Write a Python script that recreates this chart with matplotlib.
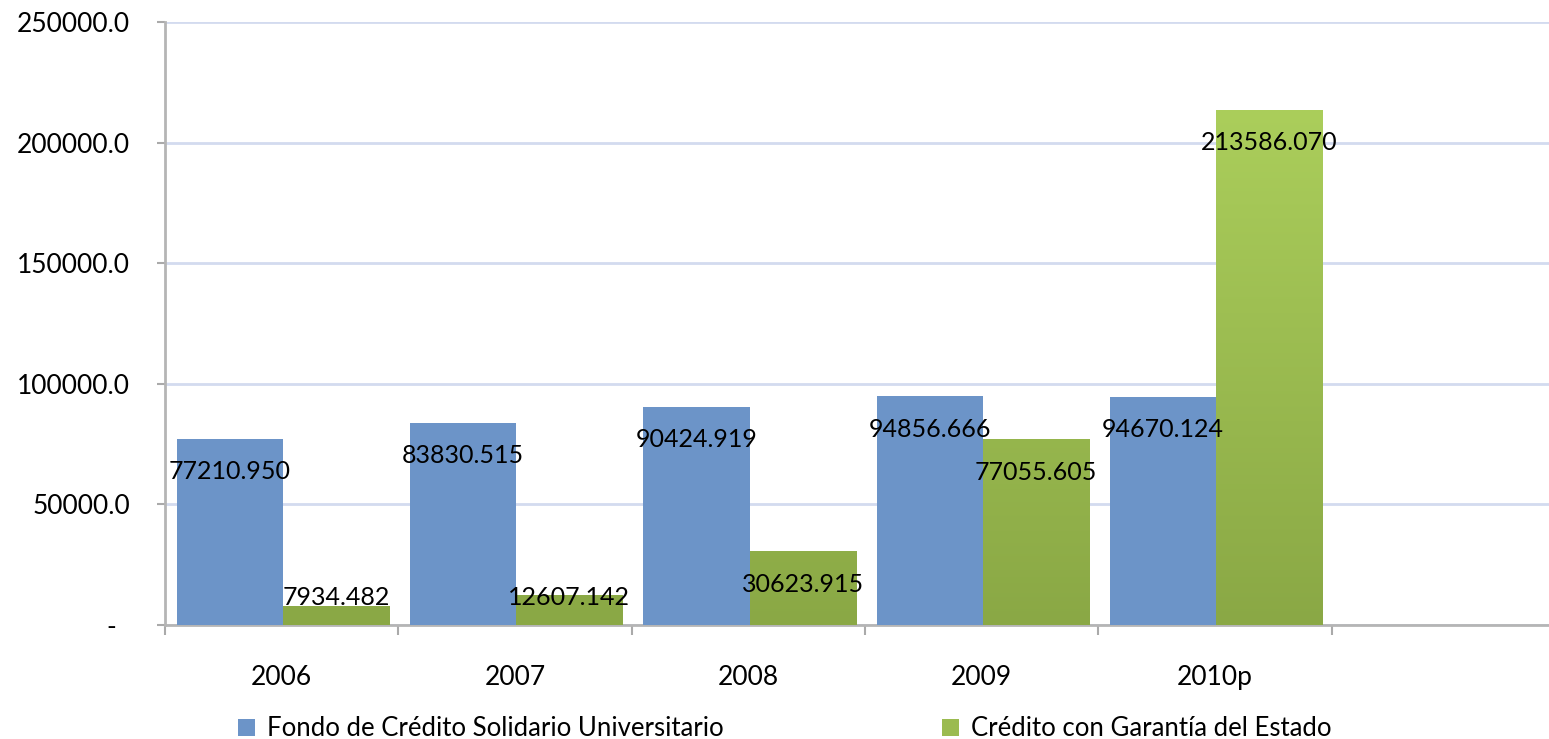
import matplotlib
matplotlib.use("Agg")
import matplotlib.pyplot as plt
import numpy as np
from matplotlib.colors import LinearSegmentedColormap

years = ["2006", "2007", "2008", "2009", "2010p"]
fondo = [77210.950, 83830.515, 90424.919, 94856.666, 94670.124]
cae = [7934.482, 12607.142, 30623.915, 77055.605, 213586.070]
yticks = [0, 50000, 100000, 150000, 200000, 250000]
ytick_labels = ["-  ", "50000.0", "100000.0", "150000.0", "200000.0", "250000.0"]

plt.rcParams['font.family'] = ['Lato', 'DejaVu Sans']

fig = plt.figure(figsize=(15.49, 7.39), dpi=100)
ax = fig.add_axes([165 / 1549, 114 / 739, 1400 / 1549, 603 / 739])

x = np.arange(len(years))
w = 0.455
blue = "#6C94C8"
b1 = ax.bar(x - 0.222, fondo, w, color=blue, zorder=3)
b2 = ax.bar(x + 0.233, cae, w, color="#9BBB50", zorder=3)

# vertical gradient on the green bars
cmap = LinearSegmentedColormap.from_list("g", ["#8AA845", "#ABCE5B"])
grad = np.linspace(0, 1, 256).reshape(-1, 1)
for bar in b2:
    bx, bw = bar.get_x(), bar.get_width()
    im = ax.imshow(grad, cmap=cmap, origin="lower", aspect="auto",
                   extent=[bx, bx + bw, 0, max(cae)], zorder=3.5)
    im.set_clip_path(bar)

off = 13700
for bars in (b1, b2):
    for bar in bars:
        v = bar.get_height()
        ax.text(bar.get_x() + bar.get_width() / 2, max(v - off, 11600),
                f"{v:.3f}", ha="center", va="center", fontsize=18,
                color="black", zorder=5)

ax.set_xlim(-0.5, 5.5)
ax.set_ylim(0, 250000)
ax.set_yticks(yticks)
ax.set_yticklabels(ytick_labels, fontsize=19)
ax.set_xticks(x)
ax.set_xticklabels(years, fontsize=19)
ax.set_xticks(np.arange(-0.5, 6, 1), minor=True)
ax.tick_params(axis="x", which="major", length=0, pad=29)
ax.tick_params(axis="x", which="minor", length=7, width=1.5, color="#AAAAAA")
ax.tick_params(axis="y", length=6, width=1.5, color="#AAAAAA", pad=19)

ax.grid(axis="y", color="#D3DBEF", linewidth=2, zorder=0)
for s in ["top", "right"]:
    ax.spines[s].set_visible(False)
for s in ["left", "bottom"]:
    ax.spines[s].set_color("#B5B5B5")
    ax.spines[s].set_linewidth(2)

leg = fig.legend([b1, b2], ["Fondo de Crédito Solidario Universitario",
                            "Crédito con Garantía del Estado"],
                 loc="center left", bbox_to_anchor=(225 / 1549, 10 / 739),
                 ncol=2, frameon=False, fontsize=18.5, borderpad=0,
                 handlelength=0.66, handleheight=0.66, handletextpad=0.47,
                 columnspacing=8.5)

fig.savefig("out.png", dpi=100)
